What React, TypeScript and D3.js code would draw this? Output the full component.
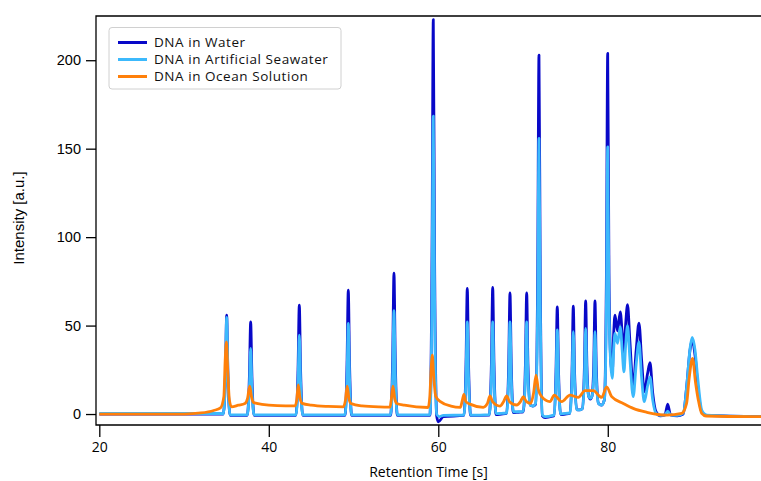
import React, { useEffect, useRef } from 'react';
import { axisBottom, axisLeft, curveMonotoneX, line, scaleLinear, select } from 'd3';

// retention time [s], intensity [a.u.]
const waterPoints: [number, number][] = [
  [20, 0], [34.4, 0], [34.63, 0], [34.88, 22], [35.03, 55.9], [35.18, 22], [35.43, -0.8],
  [37.46, -0.8], [37.71, 21], [37.86, 52.1], [38.01, 21], [38.26, -0.8],
  [43.2, -0.8], [43.45, 25], [43.6, 61.6], [43.75, 25], [44.0, -0.8],
  [48.98, -0.8], [49.23, 28], [49.38, 70], [49.53, 28], [49.78, -0.8],
  [54.37, -0.8], [54.62, 32], [54.77, 79.7], [54.92, 32], [55.17, -0.8],
  [59.01, -0.8], [59.26, 90], [59.41, 223], [59.56, 90], [59.81, -1], [60.0, -4.4], [60.6, -1.5],
  [63.02, -0.8], [63.27, 28], [63.42, 71], [63.57, 28], [63.82, -0.8],
  [66.02, -0.6], [66.27, 29], [66.42, 71.6], [66.57, 29], [66.82, -0.3], [67.45, 0],
  [68.06, 0.3], [68.31, 28], [68.46, 68.5], [68.61, 28], [68.86, 0.8], [69.45, 1],
  [70.03, 1.2], [70.28, 28], [70.43, 68.5], [70.58, 28], [70.85, 5], [71.15, 4.5],
  [71.48, 5.5], [71.73, 80], [71.88, 202.8], [72.03, 80], [72.28, -1], [72.6, -2], [73.5, -1.2],
  [73.64, -1], [73.89, 24], [74.04, 60.6], [74.19, 24], [74.44, -0.3], [75.0, 0],
  [75.53, 0.3], [75.78, 24], [75.93, 61], [76.08, 24], [76.33, 2.5], [76.66, 2.3],
  [76.99, 3], [77.24, 26], [77.39, 64], [77.54, 27], [77.75, 10], [77.94, 8.5], [78.13, 10],
  [78.34, 27], [78.49, 64], [78.64, 27], [78.9, 6], [79.25, 5], [79.6, 8],
  [79.84, 80], [79.99, 203.8], [80.14, 80], [80.35, 30], [80.53, 23],
  [80.7, 46], [80.85, 55.9], [81.15, 47], [81.47, 57.8], [81.7, 46], [81.91, 35],
  [82.1, 50], [82.33, 61.8], [82.6, 42], [83.0, 15.4], [83.35, 36], [83.68, 51.4],
  [84.0, 30], [84.31, 12.6], [84.7, 23], [84.98, 29], [85.3, 12], [85.69, 1.3],
  [86.2, -1], [86.75, -0.5], [87.07, 5.6], [87.4, -0.5], [88.2, -1], [88.9, 0],
  [89.3, 15], [89.7, 36], [89.97, 41.8], [90.3, 33], [90.7, 12], [91.1, 1], [91.67, -0.8],
  [98.4, -1.5],
];

const seawaterPoints: [number, number][] = [
  [20, 0.3], [34.4, 0.3], [34.63, 0], [34.88, 21], [35.03, 54.6], [35.18, 21], [35.43, -0.5],
  [37.46, -0.5], [37.71, 15], [37.86, 37.1], [38.01, 15], [38.26, -0.5],
  [43.2, -0.5], [43.45, 18], [43.6, 44.6], [43.75, 18], [44.0, -0.5],
  [48.98, -0.5], [49.23, 20], [49.38, 51.2], [49.53, 20], [49.78, -0.5],
  [54.37, -0.5], [54.62, 23], [54.77, 58.4], [54.92, 23], [55.17, -0.5],
  [59.01, -0.5], [59.26, 67], [59.41, 168.4], [59.56, 67], [59.81, 0], [60.1, -1.5], [60.6, -0.8],
  [63.02, -0.6], [63.27, 21], [63.42, 52.1], [63.57, 21], [63.82, -0.6],
  [66.02, -0.3], [66.27, 21], [66.42, 52.1], [66.57, 21], [66.82, 0.2], [67.45, 0.4],
  [68.06, 0.5], [68.31, 21], [68.46, 52.1], [68.61, 21], [68.86, 1.3], [69.45, 1.3],
  [70.03, 1.5], [70.28, 21], [70.43, 52.1], [70.58, 21], [70.85, 5], [71.15, 4.5],
  [71.48, 6], [71.73, 62], [71.88, 155.8], [72.03, 62], [72.28, -0.5], [72.6, -1.5], [73.5, -0.8],
  [73.64, -0.5], [73.89, 19], [74.04, 47.5], [74.19, 19], [74.44, 0], [75.0, 0.4],
  [75.53, 0.5], [75.78, 19], [75.93, 46.5], [76.08, 19], [76.33, 2.5], [76.66, 2.3],
  [76.99, 3], [77.24, 20], [77.39, 48.4], [77.54, 21], [77.75, 10], [77.94, 8.9], [78.13, 10],
  [78.34, 20], [78.49, 46.5], [78.64, 21], [78.9, 6], [79.25, 5], [79.6, 8],
  [79.84, 62], [79.99, 151], [80.14, 62], [80.35, 28], [80.53, 20.2],
  [80.7, 37], [80.85, 45.6], [81.15, 40], [81.47, 49.3], [81.7, 36], [81.91, 23.9],
  [82.1, 38], [82.33, 50], [82.6, 32], [83.0, 9.8], [83.35, 28], [83.68, 40.8],
  [84.0, 20], [84.31, 7], [84.7, 16], [84.98, 21], [85.3, 8], [85.69, 0.4],
  [86.2, -0.8], [86.75, -0.5], [87.07, 1.7], [87.4, -0.5], [88.2, -0.8], [88.9, 0.5],
  [89.38, 19.2], [89.7, 37], [89.97, 43.3], [90.3, 36], [90.6, 21], [91.1, 2], [91.67, -0.6],
  [98.4, -1.5],
];

const oceanPoints: [number, number][] = [
  [20, 0], [30, 0], [32, 0.6], [33.5, 2], [34.3, 3.5], [34.7, 10], [34.85, 30], [35.0, 40.8],
  [35.15, 25], [35.35, 8], [35.6, 4.1], [36.4, 5], [37.19, 6], [37.5, 9], [37.75, 15.8],
  [37.95, 10], [38.2, 6.5], [38.57, 6], [40, 5], [42, 4.6], [43.1, 4.6], [43.3, 8], [43.48, 16.4],
  [43.68, 9], [43.95, 6], [45, 5], [47, 4.3], [48.8, 4.1], [49.05, 8], [49.25, 15.8], [49.45, 9],
  [49.7, 6], [51, 4.6], [53, 4], [54.3, 3.9], [54.45, 8], [54.65, 15.8], [54.85, 9], [55.1, 6],
  [56, 5], [58.8, 3.7], [59.0, 10], [59.15, 25], [59.3, 33.3], [59.45, 22], [59.7, 10],
  [60.25, 7], [61.5, 4.5], [62.6, 3.8], [62.85, 8], [63.03, 11.1], [63.25, 7], [63.74, 5.6],
  [65.31, 3.8], [65.8, 6], [66.1, 10.2], [66.4, 7], [67.28, 4.5], [67.7, 7], [68.07, 10.2],
  [68.4, 7], [69.25, 5.1], [69.7, 7], [70.03, 9.8], [70.4, 7], [70.9, 6], [71.25, 12],
  [71.53, 22], [71.8, 14], [72.2, 9.8], [73.18, 7], [73.69, 10.7], [74.56, 7], [75.54, 10.7],
  [76.52, 9.4], [77.31, 13.2], [78.29, 13.2], [79.28, 9.4], [79.87, 15.4], [80.46, 9.8],
  [81.83, 6], [83.0, 3.2], [84.6, 1.0], [86.95, -0.6], [88.72, 0.4], [89.3, 6], [89.6, 20],
  [90.0, 31.5], [90.35, 18], [90.68, 8], [91.08, 0.4], [91.6, -1.1], [98.4, -1.5],
];

const seriesNames = ['DNA in Water', 'DNA in Artificial Seawater', 'DNA in Ocean Solution'];
const seriesColors = ['#0808c8', '#3cb9fc', '#ff800a'];
const seriesData = [waterPoints, seawaterPoints, oceanPoints];

const xTicks = [20, 40, 60, 80];
const yTicks = [0, 50, 100, 150, 200];

const W = 761;
const H = 481;
const box = { left: 96, right: 761, top: 16, bottom: 425 };

export default function App() {
  const svgRef = useRef<SVGSVGElement>(null);

  useEffect(() => {
    const svg = select(svgRef.current);
    svg.selectAll('*').remove();

    const x = scaleLinear().domain([19.61, 98.08]).range([box.left, box.right]);
    const y = scaleLinear().domain([-6.2, 225]).range([box.bottom, box.top]);

    svg.append('clipPath').attr('id', 'plot-clip')
      .append('rect')
      .attr('x', box.left).attr('y', box.top)
      .attr('width', box.right - box.left).attr('height', box.bottom - box.top);

    // traces
    const trace = line<[number, number]>()
      .x(d => x(d[0]))
      .y(d => y(d[1]))
      .curve(curveMonotoneX);

    const traces = svg.append('g').attr('clip-path', 'url(#plot-clip)');
    seriesData.forEach((pts, i) => {
      traces.append('path')
        .attr('d', trace(pts))
        .attr('fill', 'none')
        .attr('stroke', seriesColors[i])
        .attr('stroke-width', 2.8)
        .attr('stroke-linejoin', 'round');
    });

    // frame
    svg.append('path')
      .attr('d', `M${box.right},${box.top}H${box.left}V${box.bottom}H${box.right}`)
      .attr('fill', 'none')
      .attr('stroke', '#000')
      .attr('stroke-width', 1.3);

    // axes
    const yAxis = axisLeft(y).tickValues(yTicks).tickSize(10).tickPadding(5).tickFormat(d => String(d));
    const gy = svg.append('g').attr('transform', `translate(${box.left},0)`).call(yAxis);
    gy.select('.domain').remove();
    gy.selectAll('line').attr('stroke-width', 1.3);
    gy.selectAll('text')
      .attr('font-family', '"Liberation Sans", Arial, sans-serif')
      .attr('font-size', 14.5)
      .attr('fill', '#000');

    const xAxis = axisBottom(x).tickValues(xTicks).tickSize(12).tickPadding(5).tickFormat(d => String(d));
    const gx = svg.append('g').attr('transform', `translate(0,${box.bottom})`).call(xAxis);
    gx.select('.domain').remove();
    gx.selectAll('line').attr('stroke-width', 1.3);
    gx.selectAll('text')
      .attr('font-family', '"Open Sans", sans-serif')
      .attr('font-size', 14)
      .attr('fill', '#000');

    svg.append('text')
      .attr('transform', 'translate(24,218) rotate(-90)')
      .attr('text-anchor', 'middle')
      .attr('font-family', '"Liberation Sans", Arial, sans-serif')
      .attr('font-size', 15)
      .text('Intensity [a.u.]');

    svg.append('text')
      .attr('x', (box.left + box.right) / 2)
      .attr('y', 477)
      .attr('text-anchor', 'middle')
      .attr('font-family', '"Open Sans", sans-serif')
      .attr('font-size', 14)
      .text('Retention Time [s]');

    // legend
    const legend = svg.append('g');
    legend.append('rect')
      .attr('x', 109).attr('y', 27.5)
      .attr('width', 232).attr('height', 61.5)
      .attr('rx', 3)
      .attr('fill', '#fff')
      .attr('stroke', '#d0d0d0');
    seriesNames.forEach((name, i) => {
      const cy = 42.5 + i * 17;
      legend.append('line')
        .attr('x1', 118).attr('x2', 147)
        .attr('y1', cy).attr('y2', cy)
        .attr('stroke', seriesColors[i])
        .attr('stroke-width', 3);
      legend.append('text')
        .attr('x', 154).attr('y', cy)
        .attr('dy', '0.35em')
        .attr('font-family', '"Open Sans", sans-serif')
        .attr('font-size', 13.5)
        .attr('letter-spacing', 0.55)
        .attr('fill', '#111')
        .text(name);
    });
  }, []);

  return (
    <svg
      ref={svgRef}
      width={W}
      height={H}
      style={{ position: 'absolute', left: 0, top: 0, background: '#fff' }}
    />
  );
}
